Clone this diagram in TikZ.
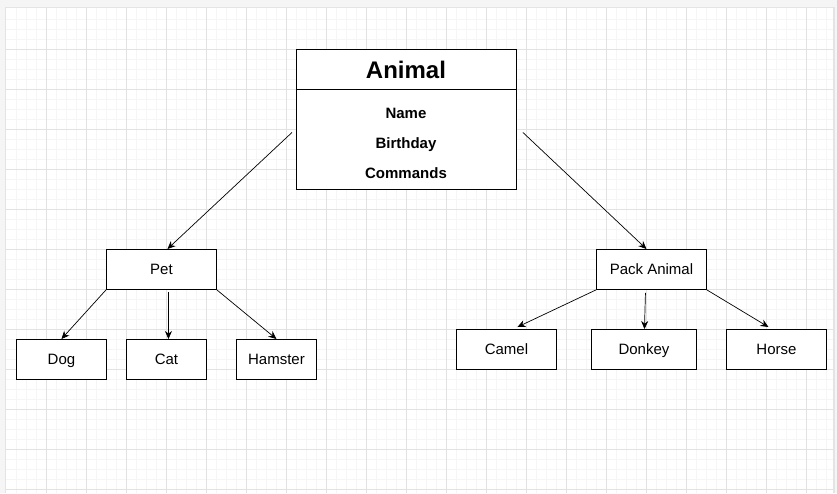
\documentclass[tikz,border=0pt]{standalone}
\usepackage{fontspec}
\setmainfont{Liberation Sans}
\usetikzlibrary{arrows.meta}
\definecolor{outbg}{HTML}{F5F5F5}
\definecolor{pageedge}{HTML}{E4E4E4}
\definecolor{majorgrid}{HTML}{E2E2E2}
\definecolor{minorgrid}{HTML}{F5F5F5}
\tikzset{
  box/.style={draw=black, line width=0.9pt, fill=white, inner sep=0pt,
    font=\fontsize{15}{18}\selectfont, anchor=north west,
    text height=10.7pt, text depth=0pt},
  conn/.style={line width=0.7pt, -{Stealth[length=8pt,width=7pt]}},
  field/.style={font=\bfseries\fontsize{15}{18}\selectfont, inner sep=0pt,
    text height=10.7pt, text depth=0pt},
}
\begin{document}
\begin{tikzpicture}[x=1pt,y=-1pt]
\useasboundingbox (0,0) rectangle (837,493);
\fill[outbg] (0,0) rectangle (837,493);
\fill[pageedge] (5,7) rectangle (834.5,493);
\fill[white] (6,8) rectangle (833,493);
% minor grid
\foreach \x in {16,26,...,826} \draw[minorgrid, line width=0.8pt] (\x,8) -- (\x,493);
\foreach \y in {19,29,...,489} \draw[minorgrid, line width=0.8pt] (6,\y) -- (833,\y);
% major grid
\foreach \x in {46,86,...,826} \draw[majorgrid, line width=0.9pt] (\x,8) -- (\x,493);
\foreach \y in {49,89,...,489} \draw[majorgrid, line width=0.9pt] (6,\y) -- (833,\y);

% Animal class box
\node[box, minimum width=220pt, minimum height=140pt] (animal) at (296,49) {};
\draw[line width=0.9pt] (296,89) -- (516,89);
\node[font=\bfseries\fontsize{24}{28}\selectfont, inner sep=0pt,
  text height=17pt, text depth=0pt] (title) at (406,70) {Animal};
\node[field] (fname) at (406,113) {Name};
\node[field] (fbirth) at (406,143) {Birthday};
\node[field] (fcmd) at (406,173) {Commands};

% second level
\node[box, minimum width=110pt, minimum height=40pt] (pet) at (106,249) {Pet};
\node[box, minimum width=110pt, minimum height=40pt] (pack) at (596,249) {Pack Animal};

% leaves
\node[box, minimum width=90pt, minimum height=40pt] (dog) at (16,339) {Dog};
\node[box, minimum width=80pt, minimum height=40pt] (cat) at (126,339) {Cat};
\node[box, minimum width=80pt, minimum height=40pt] (hamster) at (236,339) {Hamster};
\node[box, minimum width=100pt, minimum height=40pt] (camel) at (456,329) {Camel};
\node[box, minimum width=105pt, minimum height=40pt] (donkey) at (591,329) {Donkey};
\node[box, minimum width=100pt, minimum height=40pt] (horse) at (726,329) {Horse};

% connectors
\draw[conn] ([xshift=-4pt,yshift=-13pt]animal.west) -- ([xshift=6pt]pet.north);
\draw[conn] ([xshift=6pt,yshift=-13pt]animal.east) -- ([xshift=-5pt]pack.north);
\draw[conn] (pet.south west) -- (dog.north);
\draw[conn] ([xshift=7pt,yshift=-2pt]pet.south) -- ([xshift=2pt]cat.north);
\draw[conn] (pet.south east) -- (hamster.north);
\draw[conn] (pack.south west) -- ([xshift=11pt,yshift=2pt]camel.north);
\draw[conn] ([xshift=-6pt,yshift=-3pt]pack.south) -- ([xshift=0.5pt]donkey.north);
\draw[conn] (pack.south east) -- ([xshift=-8pt,yshift=2pt]horse.north);
\end{tikzpicture}
\end{document}
